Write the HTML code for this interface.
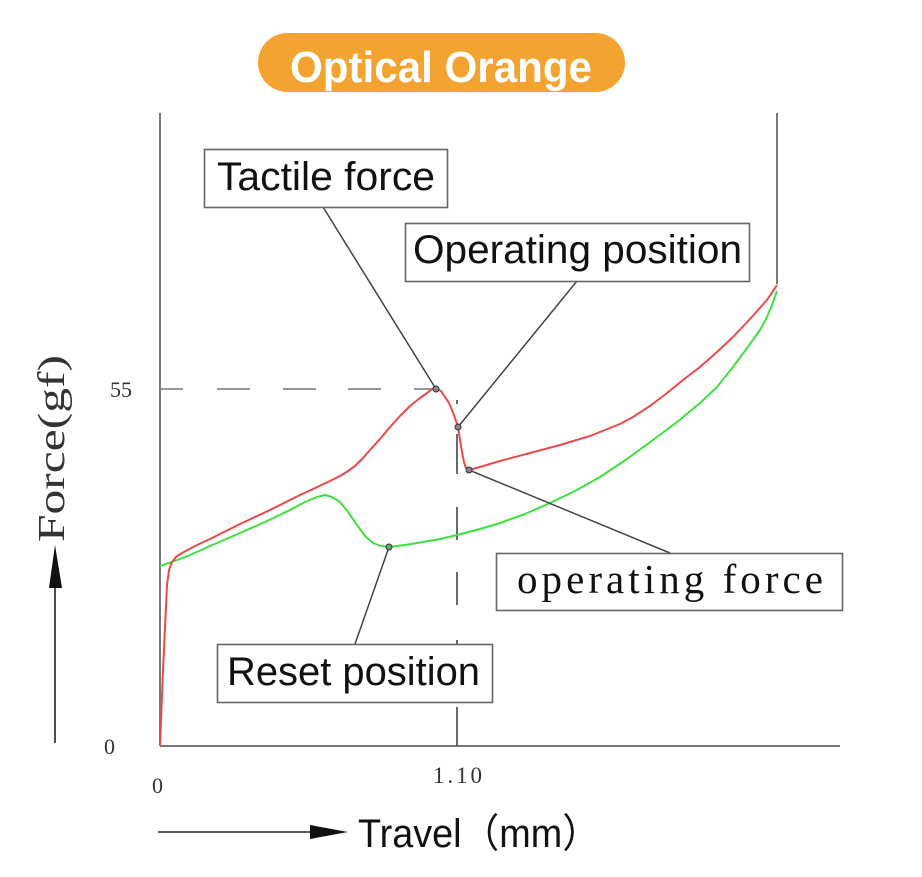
<!DOCTYPE html>
<html>
<head>
<meta charset="utf-8">
<style>
  html,body{margin:0;padding:0;background:#fff;}
  body{width:922px;height:877px;overflow:hidden;}
  svg{display:block;}
</style>
</head>
<body>
<svg width="922" height="877" viewBox="0 0 922 877" xmlns="http://www.w3.org/2000/svg">
  <rect width="922" height="877" fill="#fff"/>

  <!-- Title pill -->
  <rect x="258" y="33" width="367" height="59" rx="29.5" ry="29.5" fill="#F3A32F"/>
  <text x="290" y="82" font-family="Liberation Sans, sans-serif" font-weight="bold" font-size="44" fill="#fff" textLength="302" lengthAdjust="spacingAndGlyphs">Optical Orange</text>

  <!-- Axes -->
  <line x1="160" y1="113" x2="160" y2="746" stroke="#7a7a7a" stroke-width="2"/>
  <line x1="160" y1="746" x2="840" y2="746" stroke="#7a7a7a" stroke-width="2"/>
  <line x1="777" y1="113" x2="777" y2="284" stroke="#7a7a7a" stroke-width="2"/>

  <!-- Dashed guides -->
  <line x1="160" y1="389" x2="436" y2="389" stroke="#777" stroke-width="1.6" stroke-dasharray="23 34 33 33 33 32 33 33 23 40"/>
  <path d="M457 746 L457 400" stroke="#444" stroke-width="1.6" fill="none" stroke-dasharray="39 34 33 35 33 32 33 33 40 30"/>

  <!-- Tick labels -->
  <text x="110" y="397" font-family="Liberation Serif, serif" font-size="22" fill="#333">55</text>
  <text x="104" y="754" font-family="Liberation Serif, serif" font-size="22" fill="#333">0</text>
  <text x="152" y="793" font-family="Liberation Serif, serif" font-size="22" fill="#333">0</text>
  <text x="433" y="783" font-family="Liberation Serif, serif" font-size="23" fill="#333" textLength="49" lengthAdjust="spacing">1.10</text>

  <!-- Y axis label and arrow -->
  <line x1="55" y1="743" x2="55" y2="585" stroke="#222" stroke-width="1.6"/>
  <polygon points="55,545 49,588 62,588" fill="#111"/>
  <text transform="translate(64,542) rotate(-90)" font-family="Liberation Serif, serif" font-size="38" fill="#333" textLength="187" lengthAdjust="spacingAndGlyphs">Force(gf)</text>

  <!-- X axis label and arrow -->
  <line x1="158" y1="832" x2="312" y2="832" stroke="#222" stroke-width="1.6"/>
  <polygon points="348,832 310,825 310,839" fill="#111"/>
  <text x="358" y="847" font-family="Liberation Sans, 'Noto Sans CJK SC', sans-serif" font-size="40" fill="#111" textLength="242" lengthAdjust="spacingAndGlyphs">Travel（mm）</text>

  <!-- Green curve (return) -->
  <polyline fill="none" stroke="#3ee03e" stroke-width="2" stroke-linejoin="round" points="160,566 172,562 190,555 210,546 240,533 265,522 290,510 305,502 317,497 325,495 332,497 340,502 348,512 357,525 365,536 373,543 381,546 389,547 405,545 423,542 440,539 457,535 480,529 500,523 525,514 550,503 575,491 600,477 627,459 653,440 677,422 700,403 717,387 733,367 750,344 760,330 767,317 772,305 777,291"/>

  <!-- Red curve (press) -->
  <polyline fill="none" stroke="#e84a4a" stroke-width="2" stroke-linejoin="round" points="160,746 163,670 167,585 169,570 172,562 176,557 182,553 195,546 210,539 240,524 270,510 300,495 330,481 340,476 348,471 355,466 362,459 370,450 380,439 390,427 400,416 410,406 420,398 427,393 432,389 436,388 441,391 445,397 449,403 452,410 455,418 458,427 460,440 462,452 464,462 466,468 469,470 480,467 500,461 530,453 560,445 590,436 620,424 633,417 650,406 667,393 683,380 700,367 717,352 733,337 750,319 767,300 777,285"/>

  <!-- Leader lines -->
  <line x1="323" y1="207" x2="436" y2="389" stroke="#444" stroke-width="1.5"/>
  <line x1="577" y1="281" x2="458" y2="427" stroke="#444" stroke-width="1.5"/>
  <line x1="469" y1="470" x2="670" y2="553" stroke="#444" stroke-width="1.5"/>
  <line x1="389" y1="547" x2="355" y2="644" stroke="#444" stroke-width="1.5"/>

  <!-- Markers -->
  <circle cx="436" cy="389" r="3" fill="#888" stroke="#333" stroke-width="1"/>
  <circle cx="458" cy="427" r="3" fill="#888" stroke="#333" stroke-width="1"/>
  <circle cx="469" cy="470" r="3" fill="#888" stroke="#333" stroke-width="1"/>
  <circle cx="389" cy="547" r="3" fill="#6a6" stroke="#333" stroke-width="1"/>

  <!-- Label boxes -->
  <rect x="204.5" y="149.5" width="243" height="58" fill="#fff" stroke="#666" stroke-width="1.6"/>
  <text x="217" y="190" font-family="Liberation Sans, sans-serif" font-size="40" fill="#111" textLength="218" lengthAdjust="spacingAndGlyphs">Tactile force</text>

  <rect x="405.5" y="223.5" width="344" height="58" fill="#fff" stroke="#666" stroke-width="1.6"/>
  <text x="413" y="263" font-family="Liberation Sans, sans-serif" font-size="40" fill="#111" textLength="329" lengthAdjust="spacingAndGlyphs">Operating position</text>

  <rect x="496.5" y="553.5" width="346" height="57" fill="#fff" stroke="#666" stroke-width="1.6"/>
  <text x="517" y="593" font-family="Liberation Serif, serif" font-size="41" fill="#111" textLength="306" lengthAdjust="spacing">operating force</text>

  <rect x="217.5" y="644.5" width="275" height="58" fill="#fff" stroke="#666" stroke-width="1.6"/>
  <text x="227" y="685" font-family="Liberation Sans, sans-serif" font-size="40" fill="#111" textLength="253" lengthAdjust="spacingAndGlyphs">Reset position</text>
</svg>
</body>
</html>
